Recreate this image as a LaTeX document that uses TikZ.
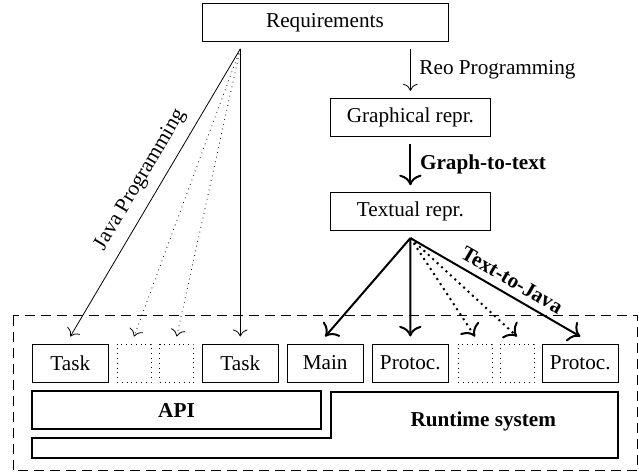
\documentclass[tikz,border=0pt]{standalone}
\usepackage{fontspec}
\setmainfont{Liberation Serif}
\usepackage{tikz}
\usetikzlibrary{arrows.meta}

\begin{document}
\begin{tikzpicture}[x=0.5pt, y=-0.5pt, font=\fontsize{10.6}{12.7}\selectfont,
    >={To[scale=1.4]},
    box/.style={draw, thin, inner sep=0pt, outer sep=3.7pt, minimum height=19pt},
    task/.style={box, minimum width=38pt},
    dotbox/.style={box, dotted, minimum width=17pt},
    layer/.style={line width=1pt}]
    \useasboundingbox (0,0) rectangle (639,473);

    % tool chain at the top
    \node[box, minimum width=123pt] (req) at (325,22.5) {Requirements};
    \node[box, minimum width=80.3pt] (graph) at (410.4,117.2) {Graphical repr.};
    \node[box, minimum width=80.3pt] (text) at (410.4,211.7) {Textual repr.};

    \draw[->] (req.south -| graph.north) -- node[right, xshift=1pt] {Reo Programming} (graph);
    \draw[->, layer] (graph) -- node[right, xshift=1pt] {\textbf{Graph-to-text}} (text);

    % frame of the generated program
    \draw[dash pattern=on 5pt off 3pt] (13.3,315.7) rectangle (637.3,470.5);

    % row of components
    \node[task] (task1) at (70.3,362.9) {Task};
    \node[dotbox] (dots1) at (134,362.9) {};
    \node[dotbox] (dots2) at (176.7,362.9) {};
    \node[task] (task2) at (240.3,362.9) {Task};
    \node[task] (main) at (325.2,362.9) {Main};
    \node[task] (prot1) at (410.3,362.9) {Protoc.};
    \node[dotbox] (dots3) at (475,362.9) {};
    \node[dotbox] (dots4) at (517,362.9) {};
    \node[task] (prot2) at (580.3,362.9) {Protoc.};

    % API and runtime system
    \node[draw, layer, inner sep=0pt, minimum width=144.2pt, minimum height=19.15pt] (api) at (176.5,410.2) {\textbf{API}};
    \draw[layer] (330.7,391.7) -- (618.3,391.7) -- (618.3,457.7) -- (32.3,457.7)
        -- (32.3,438.3) -- (330.7,438.3) -- cycle;
    \node (rts) at (483.3,421.7) {\textbf{Runtime system}};

    % hand written code
    \coordinate (japex) at (req.south -| task2.north);
    \draw[->] (japex) -- node[sloped, above, pos=0.49, yshift=1.5pt] {Java Programming} (task1.north);
    \draw[->, dotted] (japex) -- (dots1.north);
    \draw[->, dotted] (japex) -- (dots2.north);
    \draw[->] (japex) -- (task2.north);

    % generated code
    \draw[->, layer] (text.south) -- (main.north);
    \draw[->, layer] (text.south) -- (prot1.north);
    \draw[->, layer, dotted] (text.south) -- (dots3.north);
    \draw[->, layer, dotted] (text.south) -- (dots4.north);
    \draw[->, layer] (text.south) -- node[sloped, above, pos=0.555] {\textbf{Text-to-Java}} (prot2.north);
\end{tikzpicture}
\end{document}
